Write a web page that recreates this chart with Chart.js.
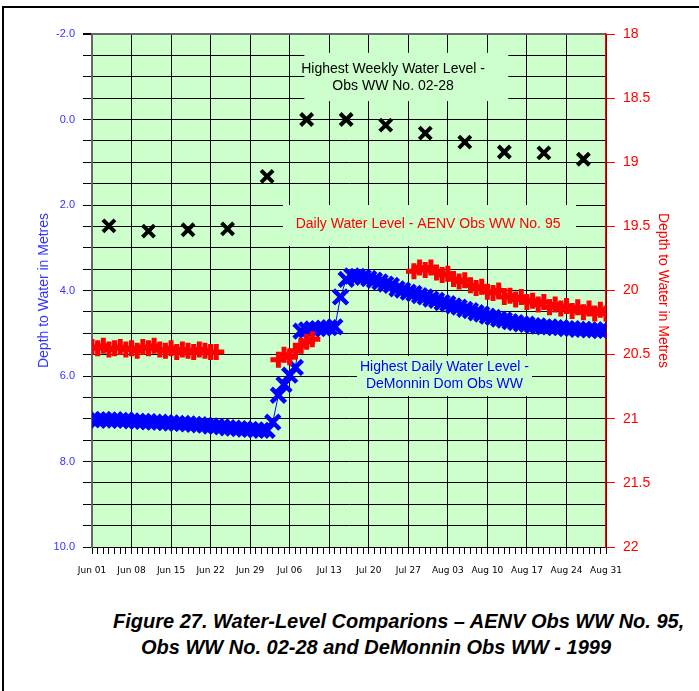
<!DOCTYPE html>
<html><head><meta charset="utf-8">
<script src="https://cdn.jsdelivr.net/npm/chart.js@4.4.1/dist/chart.umd.min.js"></script>
<style>
html,body{margin:0;padding:0;background:#fff;width:699px;height:691px;overflow:hidden;position:relative}
#frame{position:absolute;left:2px;top:6px;width:760px;height:760px;border-top:2px solid #000;border-left:2px solid #000;}
#wrap{position:absolute;left:0;top:0;width:699px;height:600px}
.cap{position:absolute;white-space:nowrap;font:italic bold 20px "Liberation Sans",Arial,sans-serif;color:#000}
</style></head><body>
<div id="frame"></div>
<div id="wrap"><canvas id="c" width="699" height="600"></canvas></div>
<div class="cap" style="left:113px;top:610px">Figure 27. Water-Level Comparions – AENV Obs WW No. 95,</div>
<div class="cap" style="left:141px;top:636px">Obs WW No. 02-28 and DeMonnin Obs WW - 1999</div>
<script>
// x: day index from Jun 01 (0) to Aug 31 (91)
const xTickLabels = ['Jun 01','Jun 08','Jun 15','Jun 22','Jun 29','Jul 06','Jul 13','Jul 20','Jul 27','Aug 03','Aug 10','Aug 17','Aug 24','Aug 31'];
const leftTickLabels = ['-2.0','0.0','2.0','4.0','6.0','8.0','10.0'];

// Highest Daily Water Level - DeMonnin Dom Obs WW (depth, m), one per day
const demonninDepth = [
  7.02,7.03,7.02,7.03,7.03,7.04,7.03,7.05,7.06,7.06,7.07,7.08,7.08,7.09,7.10,7.11,7.11,7.12,7.13,7.14,7.15,7.17,7.18,7.19,7.21,7.22,7.23,7.24,7.25,7.26,7.27,7.27,7.08,
  6.45,6.20,5.98,5.80,4.95,4.92,4.90,4.89,4.88,4.87,4.85,4.15,3.74,
  3.66,3.67,3.69,3.72,3.76,3.80,3.85,3.88,3.96,3.99,4.04,4.07,4.12,4.15,4.20,4.23,4.28,4.31,4.36,4.39,4.44,4.47,4.52,4.55,4.60,4.63,4.67,4.69,4.73,4.75,4.78,4.79,4.82,4.83,4.85,4.85,4.87,4.87,4.89,4.89,4.91,4.91,4.92,4.92,4.94,4.93
];

// Daily Water Level - AENV Obs WW No. 95 (right axis), one per day, null = no record
const aenvLevel = [
  20.44,20.45,20.43,20.46,20.45,20.44,20.46,20.45,20.47,20.44,20.45,20.43,20.46,20.47,20.45,20.48,20.46,20.47,20.48,20.46,20.47,20.48,20.48,
  null,null,null,null,null,null,null,null,null,null,
  20.54,20.50,20.52,20.47,20.43,20.40,20.38,
  null,null,null,null,null,null,null,null,null,null,null,null,null,null,null,null,null,
  19.85,19.82,19.84,19.82,19.86,19.88,19.87,19.91,19.93,19.92,19.96,19.98,19.97,20.01,20.02,20.00,20.05,20.04,20.07,20.05,20.09,20.08,20.11,20.09,20.13,20.11,20.14,20.12,20.16,20.13,20.17,20.14,20.18,20.15,20.18
];

// Highest Weekly Water Level - Obs WW No. 02-28
const weeklyDay = [3,10,17,24,31,38,45,52,59,66,73,80,87];
const weeklyDepth = [2.49,2.61,2.58,2.56,1.33,0.0,0.0,0.13,0.32,0.53,0.76,0.78,0.93];

const annotationText = [
  ['Highest Weekly Water Level -','Obs WW No. 02-28'],
  ['Daily Water Level - AENV Obs WW No. 95'],
  ['Highest Daily Water Level -','DeMonnin Dom Obs WW']
];

const PLOT_BG = '#CCFFCC';
const BLUE = '#0000FF', RED = '#FF0000', AXBLUE = '#3333FF';
const FONT = '"Liberation Sans", Arial, sans-serif';

const bgPlugin = {
  id: 'plotBg',
  beforeDraw(chart) {
    const {ctx, chartArea: a} = chart;
    ctx.save(); ctx.fillStyle = PLOT_BG;
    ctx.fillRect(a.left, a.top, a.right - a.left, a.bottom - a.top);
    ctx.restore();
  }
};
const boxPlugin = {
  id: 'textBoxes',
  beforeDatasetsDraw(chart, args, opts) {
    const {ctx, scales: {x, y}} = chart;
    opts.boxes.forEach(b => {
      const x0 = x.getPixelForValue(b.x0), x1 = x.getPixelForValue(b.x1);
      const y0 = y.getPixelForValue(b.y0), y1 = y.getPixelForValue(b.y1);
      ctx.save();
      ctx.fillStyle = PLOT_BG;
      ctx.fillRect(Math.min(x0, x1), Math.min(y0, y1), Math.abs(x1 - x0), Math.abs(y1 - y0));
      ctx.fillStyle = b.color; ctx.font = b.font;
      ctx.textAlign = 'center'; ctx.textBaseline = 'middle';
      const cx = x.getPixelForValue(b.tx), cy = y.getPixelForValue(b.ty);
      b.lines.forEach((t, i) => ctx.fillText(t, cx, cy + i * b.lh));
      ctx.restore();
    });
  }
};

new Chart(document.getElementById('c'), {
  type: 'scatter',
  data: {
    datasets: [
      {
        label: 'Daily Water Level - AENV Obs WW No. 95',
        yAxisID: 'y2',
        data: aenvLevel.map((v, i) => ({x: i, y: v})),
        showLine: false,
        pointStyle: 'cross', pointRadius: 8, pointBorderWidth: 5,
        pointBorderColor: RED, pointBackgroundColor: RED
      },
      {
        label: 'Highest Weekly Water Level - Obs WW No. 02-28',
        yAxisID: 'y',
        data: weeklyDay.map((d, i) => ({x: d, y: weeklyDepth[i]})),
        showLine: false,
        pointStyle: 'crossRot', pointRadius: 8.5, pointBorderWidth: 4,
        pointBorderColor: '#000', pointBackgroundColor: '#000'
      },
      {
        label: 'Highest Daily Water Level - DeMonnin Dom Obs WW',
        yAxisID: 'y',
        data: demonninDepth.map((v, i) => ({x: i, y: v})),
        showLine: true, borderColor: BLUE, borderWidth: 1,
        pointStyle: 'crossRot', pointRadius: 10, pointBorderWidth: 4.5,
        pointBorderColor: BLUE, pointBackgroundColor: BLUE
      }
    ]
  },
  options: {
    responsive: false, animation: false, devicePixelRatio: 1,
    layout: {padding: {top: 34, left: 0, right: 0, bottom: 0}},
    plugins: {
      legend: {display: false}, tooltip: {enabled: false},
      textBoxes: {boxes: [
        {x0: 37.6, x1: 73.7, y0: -1.56, y1: -0.43, tx: 53.3, ty: -1.18, lh: 17, color: '#000', font: '14px ' + FONT, lines: annotationText[0]},
        {x0: 33.8, x1: 85.7, y0: 2.0, y1: 2.96, tx: 59.5, ty: 2.44, lh: 17, color: RED, font: '14px ' + FONT, lines: annotationText[1]},
        {x0: 46.9, x1: 77.9, y0: 5.53, y1: 6.47, tx: 62.4, ty: 5.79, lh: 17, color: BLUE, font: '14px ' + FONT, lines: annotationText[2]}
      ]}
    },
    scales: {
      x: {
        type: 'linear', position: 'bottom', min: 0, max: 91,
        afterFit(s) { s.height = 53; },
        ticks: {
          stepSize: 1, autoSkip: false, maxRotation: 0, minRotation: 0,
          color: '#000', font: {family: '"DejaVu Sans", sans-serif', size: 9}, padding: 11,
          callback: v => (v % 7 === 0 ? xTickLabels[v / 7] : '')
        },
        grid: {
          color: c => (c.tick && c.tick.value % 7 === 0 ? '#000' : 'rgba(0,0,0,0)'),
          tickColor: '#000', tickLength: 7, lineWidth: 1
        },
        border: {color: '#000', width: 1}
      },
      y: {
        type: 'linear', position: 'left', min: -2, max: 10, reverse: true,
        afterFit(s) { s.width = 92; },
        ticks: {
          stepSize: 0.5, autoSkip: false, color: AXBLUE, padding: 8,
          font: {family: FONT, size: 11},
          callback: v => { const k = (v + 2) / 2; return Number.isInteger(k) ? leftTickLabels[k] : ''; }
        },
        grid: {
          color: c => (c.tick && c.tick.value === -2 ? '#666' : '#000'),
          lineWidth: c => (c.tick && c.tick.value === -2 ? 2 : 1),
          tickColor: '#000', tickLength: 9
        },
        border: {color: '#666', width: 2},
        title: {display: true, text: 'Depth to Water in Metres', color: AXBLUE,
          font: {family: FONT, size: 14}, padding: {top: 35.6, bottom: 0}}
      },
      y2: {
        type: 'linear', position: 'right', min: 18, max: 22, reverse: true,
        afterFit(s) { s.width = 93; },
        ticks: {
          stepSize: 0.5, autoSkip: false, color: RED, padding: 8,
          font: {family: FONT, size: 14},
          callback: v => String(v)
        },
        grid: {drawOnChartArea: false, tickColor: RED, tickLength: 9},
        border: {color: RED, width: 1.5},
        title: {display: true, text: 'Depth to Water in Metres', color: RED,
          font: {family: FONT, size: 14}, padding: {top: 27.6, bottom: 0}}
      }
    }
  },
  plugins: [bgPlugin, boxPlugin]
});
</script>
</body></html>
